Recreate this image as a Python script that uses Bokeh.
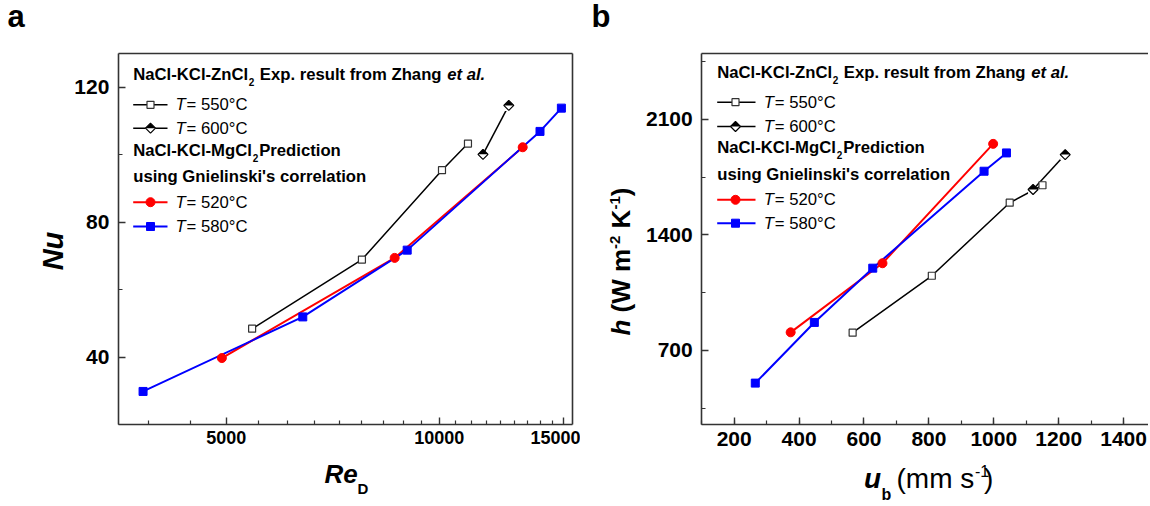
import numpy as np
from bokeh.plotting import figure
from bokeh.layouts import row
from bokeh.models import (Range1d, LinearScale, LinearAxis, FixedTicker,
                          SingleIntervalTicker, Label, BasicTickFormatter)
from bokeh.embed import file_html
from bokeh.resources import INLINE

# ---------------- data ----------------
# panel a : Nu versus Re_D
re_550 = [5440, 7776, 10090, 10980]
nu_550 = [48.4, 68.9, 95.4, 103.3]
re_600 = [11530, 12540]
nu_600 = [100.1, 114.6]
re_520 = [4930, 8650, 13120]
nu_520 = [39.7, 69.4, 102.2]
re_580 = [3815, 6415, 9010, 13880, 14880]
nu_580 = [29.8, 51.9, 71.7, 106.9, 113.8]

# panel b : h versus u_b
ub_550 = [565, 809, 1049, 1150]
h_550 = [807, 1152, 1595, 1701]
ub_600 = [1121, 1220]
h_600 = [1675, 1887]
ub_520 = [374, 657, 998]
h_520 = [809, 1228, 1952]
ub_580 = [265, 447, 627, 970, 1039]
h_580 = [501, 869, 1198, 1786, 1897]

a_xticks = [5000, 10000, 15000]
temps = ["550", "600", "520", "580"]

# axis boxes (data units)
A_X = (3520, 15430)
A_Y = (20, 130)
B_X = (100, 1476.7)
B_Y = (250, 2500)

# ---------------- style / geometry ----------------
FONT = "Liberation Sans"
AXC = "#333333"
BLUE = "#0000ff"
RED = "#ff0000"
H = 506
SHIFT = 2.75


def make_fig(w, xr, yr, xtype):
    p = figure(frame_width=w, frame_height=H, min_border=0, title=None,
               x_range=xr, y_range=yr, x_axis_type=xtype,
               output_backend="svg", toolbar_location=None)
    p.xgrid.visible = False
    p.ygrid.visible = False
    p.outline_line_color = None
    p.background_fill_color = "white"
    p.border_fill_color = "white"
    p.extra_x_ranges = {"px": Range1d(0, w)}
    p.extra_x_scales = {"px": LinearScale()}
    d = SHIFT * (yr.end - yr.start) / H
    p.extra_y_ranges = {"py": Range1d(0, H),
                        "pys": Range1d(SHIFT, H + SHIFT),
                        "shift": Range1d(yr.start + d, yr.end + d)}
    p.extra_y_scales = {"py": LinearScale(), "pys": LinearScale(),
                        "shift": LinearScale()}
    return p


def style_axis(ax, size, standoff):
    ax.axis_line_color = AXC
    ax.axis_line_width = 1.6
    ax.major_tick_in = 7
    ax.major_tick_out = 0
    ax.minor_tick_in = 4
    ax.minor_tick_out = 0
    ax.major_tick_line_color = AXC
    ax.major_tick_line_width = 1.4
    ax.minor_tick_line_color = AXC
    ax.minor_tick_line_width = 1.2
    ax.major_label_text_font = FONT
    ax.major_label_text_font_size = f"{size}px"
    ax.major_label_text_font_style = "bold"
    ax.major_label_text_color = "black"
    ax.major_label_standoff = standoff


def frame_line(p, side, loc, bounds):
    ax = LinearAxis(ticker=FixedTicker(ticks=[]), fixed_location=loc, bounds=bounds,
                    major_tick_in=0, major_tick_out=0, minor_tick_in=0,
                    minor_tick_out=0, axis_line_color=AXC, axis_line_width=1.6,
                    major_label_text_font_size="0px")
    p.add_layout(ax, side)


def markers(p, kind, xs, ys, xr="default", yr="default", yshift="shift"):
    if kind == "open":
        p.scatter(xs, ys, marker="square", size=7, fill_color="white",
                  line_color="#333333", line_width=1.2, x_range_name=xr, y_range_name=yr)
    elif kind == "circle":
        p.scatter(xs, ys, marker="circle", size=9, fill_color=RED,
                  line_color=RED, x_range_name=xr, y_range_name=yr)
    elif kind == "square":
        p.scatter(xs, ys, marker="square", size=8, fill_color=BLUE,
                  line_color=BLUE, x_range_name=xr, y_range_name=yr)
    elif kind == "half":
        a = 10 / np.sqrt(2)
        p.scatter(xs, ys, marker="square", angle=np.pi / 4, size=a,
                  fill_color="black", line_color=None, x_range_name=xr, y_range_name=yr)
        p.rect(xs, ys, width=10, height=5.5, width_units="screen",
               height_units="screen", fill_color="white", line_color=None,
               x_range_name=xr, y_range_name=yshift)
        p.scatter(xs, ys, marker="square", angle=np.pi / 4, size=a,
                  fill_color=None, line_color="black", line_width=1.2,
                  x_range_name=xr, y_range_name=yr)


def put(p, ox, x, y, text, size, style="normal", angle=0.0, align="left"):
    # (x, y): page position of the text's baseline start (top-left page origin);
    # the label is anchored at the middle of its text box.
    if angle == 0.0:
        xm, ym = x, y - 0.35 * size
    else:
        xm, ym = x - 0.35 * size, y
    p.add_layout(Label(x=xm - ox, y=H - ym, x_units="screen", y_units="screen",
                       text=text, text_font=FONT, text_font_size=f"{size}px",
                       text_font_style=style, text_color="black", angle=angle,
                       text_align=align, text_baseline="middle"))


def legend(p, ox, hx, bl, sx0, sx1, mx, tx):
    fs = 16.7
    put(p, ox, hx, bl[0], "NaCl-KCl-ZnCl", fs, "bold")
    put(p, ox, hx + 115.6, bl[0] + 5, "2", 10, "bold")
    put(p, ox, hx + 126.6, bl[0], "Exp. result from Zhang", fs, "bold")
    put(p, ox, hx + 314, bl[0], "et al.", fs, "bold italic")
    put(p, ox, hx, bl[3], "NaCl-KCl-MgCl", fs, "bold")
    put(p, ox, hx + 119.5, bl[3] + 5, "2", 10, "bold")
    put(p, ox, hx + 126, bl[3], "Prediction", fs, "bold")
    put(p, ox, hx, bl[4], "using Gnielinski's correlation", fs, "bold")
    entries = [(bl[1], "open", "black", 1.5), (bl[2], "half", "black", 1.5),
               (bl[5], "circle", RED, 2), (bl[6], "square", BLUE, 2)]
    for (b, kind, col, lw), t in zip(entries, temps):
        put(p, ox, tx, b, "T", fs, "italic")
        put(p, ox, tx + 11, b, f"= {t}\u00b0C", fs)
        yc = H - (b - 6)
        p.line([sx0 - ox, sx1 - ox], [yc, yc], line_color=col, line_width=lw,
               x_range_name="px", y_range_name="py")
        markers(p, kind, [mx - ox], [yc], xr="px", yr="py", yshift="pys")


def draw_series(p, xs, ys):
    (x550, y550), (x600, y600), (x520, y520), (x580, y580) = zip(xs, ys)
    p.line(x550, y550, line_color="black", line_width=1.5)
    p.line(x600, y600, line_color="black", line_width=1.5)
    p.line(x520, y520, line_color=RED, line_width=2)
    p.line(x580, y580, line_color=BLUE, line_width=2)
    markers(p, "open", x550, y550)
    markers(p, "half", x600, y600)
    markers(p, "circle", x520, y520)
    markers(p, "square", x580, y580)


# ================= panel a (page x 0..580) =================
OXA = 0
pa = make_fig(580, Range1d(2399, 15835), Range1d(-4.313, 145.714), "log")
step = 5000 / 9
minor_a = [5000 - 2 * step, 5000 - step] + [5000 + k * step for k in range(1, 9)] + \
          [10000 + k * step for k in range(1, 9)]
pa.xaxis.ticker = FixedTicker(ticks=a_xticks, minor_ticks=minor_a)
pa.xaxis.formatter = BasicTickFormatter(use_scientific=False)
pa.xaxis.fixed_location = A_Y[0]
pa.xaxis.bounds = A_X
pa.yaxis.ticker = SingleIntervalTicker(interval=40, num_minor_ticks=2)
pa.yaxis.fixed_location = A_X[0]
pa.yaxis.bounds = A_Y
style_axis(pa.xaxis[0], 18, 7)
style_axis(pa.yaxis[0], 21, 9)
frame_line(pa, "above", A_Y[1], A_X)
frame_line(pa, "right", A_X[1], A_Y)

draw_series(pa, [re_550, re_600, re_520, re_580], [nu_550, nu_600, nu_520, nu_580])
legend(pa, OXA, 132.7, [80, 110.3, 133.7, 156, 182, 207.7, 232], 132.7, 167, 150, 175)

put(pa, OXA, 7, 27, "a", 31, "bold")
put(pa, OXA, 63, 250.5, "Nu", 29, "bold italic", angle=np.pi / 2, align="center")
put(pa, OXA, 324, 482.7, "Re", 26, "bold italic")
put(pa, OXA, 357, 493, "D", 15, "bold")

# ================= panel b (page x 580..1148) =================
OXB = 580
pb = make_fig(568, Range1d(-273.6, 1476.7), Range1d(-247.3, 2821.43), "linear")
pb.xaxis.ticker = SingleIntervalTicker(interval=200, num_minor_ticks=2)
pb.xaxis.fixed_location = B_Y[0]
pb.xaxis.bounds = B_X
pb.yaxis.ticker = SingleIntervalTicker(interval=700, num_minor_ticks=2)
pb.yaxis.fixed_location = B_X[0]
pb.yaxis.bounds = B_Y
style_axis(pb.xaxis[0], 21, 7)
style_axis(pb.yaxis[0], 21, 9)
frame_line(pb, "above", B_Y[1], B_X)

draw_series(pb, [ub_550, ub_600, ub_520, ub_580], [h_550, h_600, h_520, h_580])
legend(pb, OXB, 716.7, [78, 107.7, 132, 153.3, 180, 205.3, 228.7], 716.7, 755, 735, 763.3)

put(pb, OXB, 591, 27, "b", 31, "bold")
bx = 629.5
put(pb, OXB, bx, 335, "h", 26, "bold italic", angle=np.pi / 2)
put(pb, OXB, bx, 311.9, "(W m", 26, "bold", angle=np.pi / 2)
put(pb, OXB, bx - 10, 248.4, "-2", 15, "bold", angle=np.pi / 2)
put(pb, OXB, bx, 227.9, "K", 26, "bold", angle=np.pi / 2)
put(pb, OXB, bx - 10, 209.1, "-1", 15, "bold", angle=np.pi / 2)
put(pb, OXB, bx, 195.8, ")", 26, "bold", angle=np.pi / 2)
put(pb, OXB, 863.6, 488, "u", 28, "bold italic")
put(pb, OXB, 881, 500, "b", 16, "bold")
put(pb, OXB, 896, 488, "(mm s", 28)
put(pb, OXB, 974.5, 476, "-1", 16)
put(pb, OXB, 983.6, 488, ")", 28)

layout = row(pa, pb)
open("out.html", "w").write(file_html(layout, INLINE))
